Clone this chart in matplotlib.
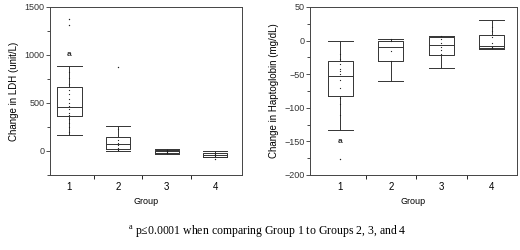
import matplotlib.pyplot as plt
from matplotlib.ticker import MultipleLocator, FixedLocator

plt.rcParams['font.family'] = ['Liberation Sans', 'DejaVu Sans']
plt.rcParams['mathtext.fontset'] = 'custom'
plt.rcParams['mathtext.rm'] = 'Liberation Serif'

groups = [1, 2, 3, 4]

# LDH box stats (unit/L): whisker low, q1, median, q3, whisker high
ldh_wlo = [165, 5, -30, -65]
ldh_q1 = [365, 20, -25, -60]
ldh_med = [455, 70, -5, -40]
ldh_q3 = [670, 150, 15, -20]
ldh_whi = [890, 260, 20, -5]
ldh_fliers = [[1380, 1310], [880], [], [-80]]
ldh_points = [[820, 760, 700, 640, 590, 540, 500, 470, 440, 400, 370, 330, 290, 250, 200],
              [230, 110, 80, 60, 30, 15],
              [10, 0, -10, -20],
              [-25, -35, -45, -55]]
ldh_a = 1000

# Haptoglobin box stats (mg/dL)
hp_wlo = [-133, -60, -41, -12]
hp_q1 = [-82, -31, -22, -11]
hp_med = [-53, -10, -6, -8]
hp_q3 = [-31, 0, 5, 8]
hp_whi = [0, 3, 7, 30]
hp_fliers = [[-176], [], [], []]
hp_points = [[-20, -28, -35, -42, -45, -50, -58, -70, -85, -95, -110],
             [3, 0, -15, -31],
             [7, 2, -4, -10, -14, -20],
             [20, 15, 5, -3, -10, -11]]
hp_a = -150


def stats(wlo, q1, med, q3, whi, fl):
    return [dict(whislo=a, q1=b, med=c, q3=d, whishi=e, fliers=f, label=str(g))
            for a, b, c, d, e, f, g in zip(wlo, q1, med, q3, whi, fl, groups)]


def draw(ax, st, pts, a_val, ylim, major, minor, ylabel):
    ax.bxp(st, positions=groups, widths=0.5, showfliers=False,
           boxprops=dict(color='#333333', linewidth=0.7),
           medianprops=dict(color='#333333', linewidth=0.7),
           whiskerprops=dict(color='#333333', linewidth=0.7),
           capprops=dict(color='#333333', linewidth=0.7),
           capwidths=0.5)
    for g, s, p in zip(groups, st, pts):
        ax.scatter([g] * len(p), p, s=0.8, color='#222222', zorder=3, linewidths=0)
        if s['fliers']:
            ax.scatter([g] * len(s['fliers']), s['fliers'], s=1.0, color='#222222',
                       zorder=3, linewidths=0)
    ax.text(1, a_val, 'a', ha='center', va='center', fontsize=6, fontweight='bold', color='#333333')
    ax.set_xlim(0.6, 4.55)
    ax.set_ylim(*ylim)
    ax.xaxis.set_major_locator(FixedLocator(groups))
    ax.xaxis.set_minor_locator(FixedLocator([1.5, 2.5, 3.5]))
    ax.tick_params(axis='x', which='major', length=0, labelsize=7, pad=5)
    ax.tick_params(axis='x', which='minor', length=3, direction='out', width=0.6)
    ax.yaxis.set_major_locator(MultipleLocator(major))
    ax.yaxis.set_minor_locator(MultipleLocator(minor))
    ax.tick_params(axis='y', which='major', length=3, width=0.6, labelsize=6.5, pad=1, colors='#333333')
    ax.tick_params(axis='y', which='minor', length=2, width=0.5)
    for sp in ax.spines.values():
        sp.set_linewidth(0.7)
        sp.set_color('#444444')
    ax.set_xlabel('Group', fontsize=6.5, labelpad=4)
    ax.set_ylabel(ylabel, fontsize=7, labelpad=4)


fig = plt.figure(figsize=(5.2, 2.5), dpi=100)
ax1 = fig.add_axes([50 / 520, 1 - 175 / 250, 192 / 520, 168 / 250])
ax2 = fig.add_axes([310 / 520, 1 - 175 / 250, 207 / 520, 168 / 250])

draw(ax1, stats(ldh_wlo, ldh_q1, ldh_med, ldh_q3, ldh_whi, ldh_fliers), ldh_points, ldh_a,
     (-250, 1500), 500, 250, 'Change in LDH (unit/L)')
draw(ax2, stats(hp_wlo, hp_q1, hp_med, hp_q3, hp_whi, hp_fliers), hp_points, hp_a,
     (-200, 50), 50, 25, 'Change in Haptoglobin (mg/dL)')
ax2.set_xlim(0.4, 4.5)

fig.text(267 / 520, 1 - 232 / 250, r'$^{\mathrm{a}}$ p≤0.0001 when comparing Group 1 to Groups 2, 3, and 4',
         ha='center', va='center', fontsize=8.5, family=['Liberation Serif', 'DejaVu Serif'])

fig.savefig('out.png', dpi=100)
